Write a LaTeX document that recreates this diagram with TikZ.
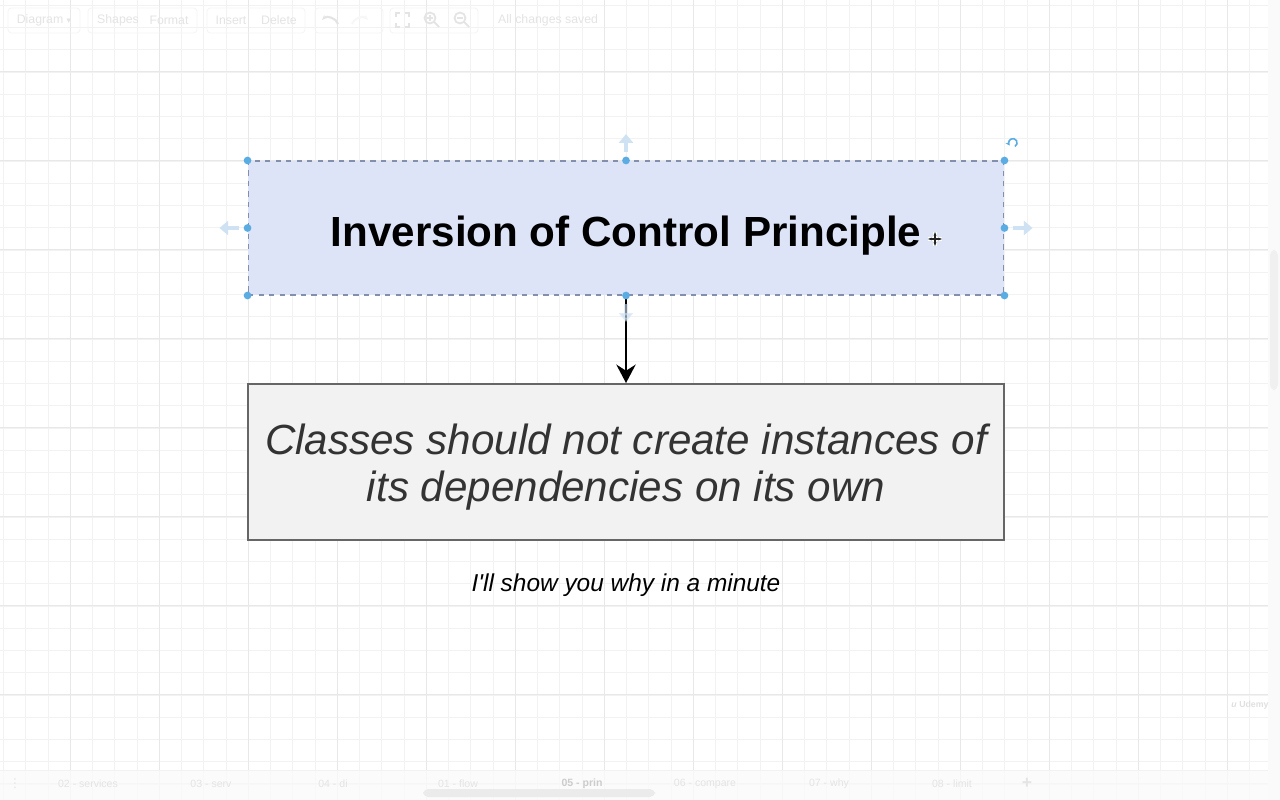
\documentclass[tikz,border=0pt]{standalone}
\usepackage{fontspec}
\setmainfont{Liberation Sans}
\newfontfamily\symfont{DejaVu Sans}
\usetikzlibrary{arrows.meta}
\definecolor{titlefill}{HTML}{DDE4F7}
\definecolor{titleline}{HTML}{8290AE}
\definecolor{rulefill}{HTML}{F2F2F2}
\definecolor{ruleline}{HTML}{666666}
\definecolor{ruletext}{HTML}{333333}
\definecolor{handle}{HTML}{5BACE3}
\definecolor{hint}{HTML}{CFE2F4}
\definecolor{ui}{HTML}{E4E4E4}

\begin{document}
\begin{tikzpicture}[x=0.02cm, y=-0.02cm, >=Stealth,
  minor/.style={draw=black!5, line width=0.5pt},
  major/.style={draw=black!9, line width=0.6pt},
  titlebox/.style={draw=titleline, fill=titlefill, dashed, line width=0.6pt,
    minimum width=15.12cm, minimum height=2.68cm},
  rulebox/.style={draw=ruleline, fill=rulefill, text=ruletext, line width=1.1pt,
    minimum width=15.12cm, minimum height=3.12cm},
  uibox/.style={draw=black!4, rounded corners=2pt, line width=0.5pt},
  uitext/.style={text=ui, font=\fontsize{7}{8}\selectfont},
  tab/.style={text=ui, font=\fontsize{6}{7}\selectfont}]
  \useasboundingbox (0,0) rectangle (1280,800);
  \fill[white] (0,0) rectangle (1280,800);
  % grid
  \begin{scope}
    \clip (0,0) rectangle (1268,800);
    \foreach \k in {0,...,57} \draw[minor] (3.55+22.25*\k,0) -- (3.55+22.25*\k,800);
    \foreach \k in {0,...,35} \draw[minor] (0,5.25+22.25*\k) -- (1280,5.25+22.25*\k);
    \foreach \k in {0,...,14} \draw[major] (70.3+89*\k,0) -- (70.3+89*\k,800);
    \foreach \k in {0,...,8} \draw[major] (0,71.5+89*\k) -- (1280,71.5+89*\k);
  \end{scope}
  % scrollbars and tab bar
  \fill[black!2] (1268,0) rectangle (1280,800);
  \fill[black!6, rounded corners=3pt] (1270,250) rectangle (1278,390);
  \fill[black!2, opacity=0.8] (0,770) rectangle (1268,800);
  \draw[black!5] (0,770) -- (1268,770);
  \fill[black!8, rounded corners=3pt] (423,789) rectangle (655,797);

  % toolbar
  \draw[uibox] (8,8) rectangle (80,33);
  \draw[uibox] (88,8) rectangle (197,33);
  \draw[uibox] (207,8) rectangle (305,33);
  \draw[uibox] (315,8) rectangle (383,33);
  \draw[uibox] (390,8) rectangle (478,33);
  \node[uitext] (diagram) at (44,20) {Diagram {\symfont\fontsize{5}{6}\selectfont ▾}};
  \node[uitext] (shapes) at (118,20) {Shapes};
  \node[uitext] (format) at (169,20) {Format};
  \node[uitext] (insert) at (231,20) {Insert};
  \node[uitext] (delete) at (279,20) {Delete};
  \node[uitext, anchor=west] (saved) at (492,20) {All changes saved};
  \draw[ui, line width=1.2pt, -{Stealth[length=3pt]}] (338,24) to[bend right=60] (322,20);
  \draw[black!3, line width=1.2pt, -{Stealth[length=3pt]}] (352,24) to[bend left=60] (368,20);
  \draw[ui, line width=1pt] (396,17) -- (396,13) -- (400,13) (405,13) -- (409,13) -- (409,17)
    (409,23) -- (409,27) -- (405,27) (400,27) -- (396,27) -- (396,23);
  \draw[ui, line width=1pt] (430,18) circle (5.5) (434,22) -- (439,27);
  \draw[ui, line width=0.8pt] (427,18) -- (433,18) (430,15) -- (430,21);
  \draw[ui, line width=1pt] (460,18) circle (5.5) (464,22) -- (469,27);
  \draw[ui, line width=0.8pt] (457,18) -- (463,18);

  % page tabs
  \node[tab, font=\symfont\fontsize{7}{8}\selectfont] (dots) at (15,784) {⋮};
  \node[tab] (tab2) at (88,784) {02 - services};
  \node[tab] (tab3) at (211,784) {03 - serv};
  \node[tab] (tab4) at (333,784) {04 - di};
  \node[tab] (tab1) at (458,784) {01 - flow};
  \node[tab, text=black!20, font=\fontsize{6}{7}\selectfont\bfseries] (tab5) at (582,784) {05 - prin};
  \node[tab] (tab6) at (705,784) {06 - compare};
  \node[tab] (tab7) at (829,784) {07 - why};
  \node[tab] (tab8) at (952,784) {08 - limit};
  \node[tab, font=\fontsize{10}{10}\selectfont\bfseries] (plus) at (1027,783) {+};
  \node[text=black!12, font=\fontsize{5}{6}\selectfont\bfseries] (logo) at (1250,705) {\textit{u} Udemy};

  % diagram
  \node[titlebox] (title) at (626,228)
    {\raisebox{0pt}[21.5pt][0pt]{\fontsize{24}{28}\selectfont\bfseries Inversion of Control Principle}};
  \node[rulebox] (rule) at (626,462)
    {\raisebox{0pt}[0pt][9.1pt]{\parbox[t]{14.8cm}{\centering
      \fontsize{24}{27.2}\selectfont\itshape
      Classes should not create instances of\\its dependencies on its own}}};
  \node[font=\fontsize{13.9}{16}\selectfont\itshape] (note) at (626,585)
    {I\textquotesingle ll show you why in a minute};
  \draw[line width=1.1pt, -{Stealth[length=10.5pt, width=11pt, inset=3.5pt]}]
    (title.south) -- (rule.north);

  % selection handles
  \draw[hint, line width=2.5pt, -{Triangle[length=5pt, width=8pt]}]
    ([yshift=5pt]title.north) -- ([yshift=15pt]title.north);
  \draw[hint, line width=2.5pt, -{Triangle[length=5pt, width=8pt]}]
    ([xshift=-5pt]title.west) -- ([xshift=-16pt]title.west);
  \draw[hint, line width=2.5pt, -{Triangle[length=5pt, width=8pt]}]
    ([xshift=5pt]title.east) -- ([xshift=16pt]title.east);
  \draw[hint, opacity=0.6, line width=2.5pt, -{Triangle[length=5pt, width=8pt]}]
    ([yshift=-5pt]title.south) -- ([yshift=-15pt]title.south);
  \foreach \a in {north west, north, north east, west, east, south west, south, south east}
    \fill[handle] (title.\a) circle (2.2pt);
  \draw[handle, line width=0.9pt, -{Stealth[length=2.5pt]}]
    ([xshift=6pt, yshift=8pt]title.north east) arc (-60:220:2.4pt);
  % move cursor
  \draw[white, line width=2pt] (928,239) -- (942,239) (935,232) -- (935,246);
  \draw[black!85, line width=0.8pt, {Stealth[length=2.2pt]}-{Stealth[length=2.2pt]}]
    (928,239) -- (942,239);
  \draw[black!85, line width=0.8pt, {Stealth[length=2.2pt]}-{Stealth[length=2.2pt]}]
    (935,232) -- (935,246);
\end{tikzpicture}
\end{document}
